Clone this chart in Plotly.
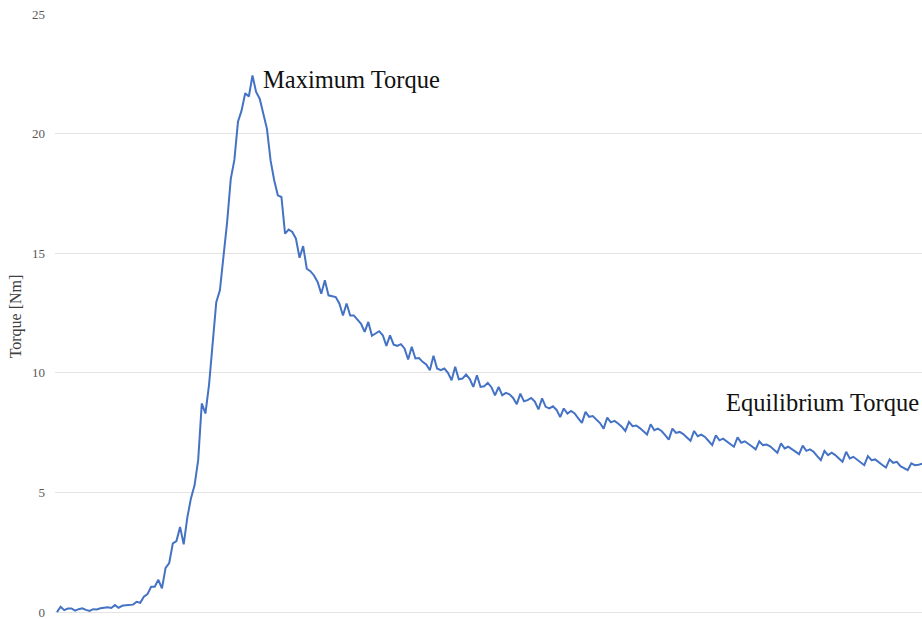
import plotly.graph_objects as go

# Torque samples (Nm), one per sample step
torque = [
    0.00, 0.22, 0.08, 0.15, 0.15, 0.06, 0.12, 0.16, 0.09, 0.05,
    0.12, 0.11, 0.16, 0.19, 0.20, 0.17, 0.29, 0.18, 0.26, 0.28,
    0.29, 0.31, 0.43, 0.39, 0.64, 0.75, 1.06, 1.06, 1.35, 0.99,
    1.85, 2.05, 2.87, 2.97, 3.56, 2.83, 3.95, 4.75, 5.30, 6.35,
    8.72, 8.30, 9.50, 11.10, 12.95, 13.45, 14.85, 16.30, 18.10, 18.90,
    20.50, 20.97, 21.69, 21.55, 22.43, 21.74, 21.46, 20.83, 20.20, 18.88,
    18.05, 17.42, 17.35, 15.82, 15.99, 15.89, 15.61, 14.81, 15.30, 14.35,
    14.25, 14.07, 13.80, 13.31, 13.87, 13.24, 13.20, 13.17, 12.90, 12.40,
    12.90, 12.40, 12.40, 12.20, 12.05, 11.71, 12.13, 11.55, 11.64, 11.74,
    11.57, 11.13, 11.57, 11.18, 11.13, 11.20, 11.02, 10.56, 11.09, 10.60,
    10.62, 10.46, 10.35, 10.11, 10.71, 10.18, 10.11, 10.18, 10.00, 9.69,
    10.25, 9.73, 9.76, 9.93, 9.75, 9.41, 9.90, 9.41, 9.44, 9.58,
    9.40, 9.06, 9.41, 9.06, 9.16, 9.10, 8.95, 8.69, 9.13, 8.81,
    8.86, 8.95, 8.80, 8.47, 8.93, 8.58, 8.51, 8.60, 8.45, 8.15,
    8.51, 8.30, 8.41, 8.30, 8.10, 7.91, 8.37, 8.16, 8.19, 8.05,
    7.90, 7.67, 8.13, 7.93, 7.99, 7.88, 7.75, 7.57, 7.95, 7.77,
    7.80, 7.69, 7.55, 7.42, 7.85, 7.60, 7.67, 7.57, 7.40, 7.21,
    7.67, 7.49, 7.53, 7.44, 7.30, 7.16, 7.57, 7.35, 7.42, 7.32,
    7.15, 6.98, 7.39, 7.18, 7.25, 7.14, 7.02, 6.91, 7.30, 7.08,
    7.14, 7.04, 6.92, 6.80, 7.14, 6.98, 7.00, 6.93, 6.80, 6.66,
    7.05, 6.84, 6.91, 6.80, 6.70, 6.60, 6.96, 6.74, 6.80, 6.70,
    6.52, 6.35, 6.74, 6.56, 6.66, 6.56, 6.42, 6.28, 6.70, 6.42,
    6.49, 6.38, 6.25, 6.14, 6.52, 6.35, 6.38, 6.28, 6.15, 6.04,
    6.38, 6.24, 6.28, 6.10, 6.00, 5.93, 6.22, 6.14, 6.16, 6.20,
]
sample = list(range(len(torque)))

y_ticks = [0, 5, 10, 15, 20, 25]
y_title = "Torque [Nm]"
peak_label = "Maximum Torque"
equil_label = "Equilibrium Torque"
peak_pos = (56.4, 22.28)
equil_pos = (184.3, 8.74)

fig = go.Figure()
fig.add_trace(go.Scatter(
    x=sample, y=torque, mode="lines",
    line=dict(color="#4472C4", width=2),
    showlegend=False, hoverinfo="skip",
))

serif = "Liberation Serif, Times New Roman, serif"

fig.add_annotation(x=peak_pos[0], y=peak_pos[1], text=peak_label,
                   showarrow=False, xanchor="left", yanchor="middle",
                   font=dict(family=serif, size=24.5, color="#111111"))
fig.add_annotation(x=equil_pos[0], y=equil_pos[1], text=equil_label,
                   showarrow=False, xanchor="left", yanchor="middle",
                   font=dict(family=serif, size=24.5, color="#111111"))

fig.update_layout(
    width=922, height=619,
    margin=dict(l=55, r=0, t=14, b=0),
    paper_bgcolor="white", plot_bgcolor="white",
    font=dict(family=serif, color="#595959"),
)
fig.update_xaxes(
    range=[-0.55, 238.95], showgrid=False, zeroline=False,
    showticklabels=False, showline=False, ticks="",
)
fig.update_yaxes(
    range=[-0.29, 25], tickvals=y_ticks, ticktext=[str(v) for v in y_ticks],
    showgrid=True, gridcolor="#e3e3e3", gridwidth=1, zeroline=False,
    showline=False, ticks="", tickfont=dict(family=serif, size=13, color="#595959"),
    ticklabelstandoff=9, ticklabeloverflow="allow",
    title=dict(text=y_title, font=dict(family=serif, size=16, color="#404040"), standoff=6),
)

fig.write_html("out.html")
